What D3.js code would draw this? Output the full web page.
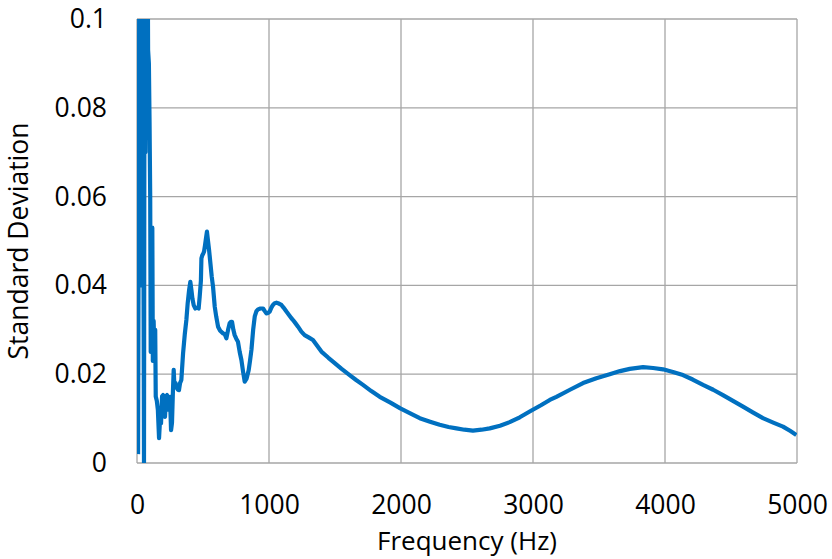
<!DOCTYPE html>
<html>
<head>
<meta charset="utf-8">
<script src="https://cdn.jsdelivr.net/npm/d3@7"></script>
<style>
  body { margin: 0; background: #fff; }
  text { font-family: "Open Sans", "Noto Sans", sans-serif; fill: #000; }
</style>
</head>
<body>
<div id="chart"></div>
<script>
// frequency (Hz) and standard deviation
var freqs = [8,18,24,30,36,42,48,53,58,64,70,76,80,84,90,95,100,104,110,116,120,126,132,138,142,
  150,158,167,175,182,190,198,205,212,220,228,236,243,250,258,265,272,278,284,292,
  300,310,318,326,336,349,362,374,384,395,404,412,420,430,442,455,467,475,484,488,
  495,502,508,515,522,530,538,546,556,566,576,589,600,614,630,652,665,677,690,702,
  712,720,730,740,752,765,778,791,804,816,830,846,856,867,880,892,905,917,935,955,
  968,980,993,1005,1018,1030,1043,1056,1075,1094,1110,1132,1150,1170,1182,1200,1220,1245,1270,1300,
  1333,1365,1397,1450,1498,1550,1611,1660,1712,1775,1839,1920,1995,2070,2142,2220,2293,2360,2420,2480,
  2545,2610,2672,2750,2823,2900,2975,3060,3127,3177,3280,3379,3480,3581,3660,3733,3834,3910,3985,4060,
  4136,4210,4288,4365,4439,4515,4591,4665,4742,4820,4894,4950,4995];

var stdDev = [0.002,0.12,0.04,0.13,0.05,0.13,0.06,0.0,0.13,0.07,0.13,0.08,0.12,0.093,0.09,0.077,0.06,0.025,0.03,0.053,0.023,0.032,0.025,0.03,0.015,
  0.014,0.012,0.0056,0.01,0.0089,0.015,0.0153,0.012,0.0104,0.015,0.0153,0.012,0.013,0.0149,0.0074,0.009,0.016,0.021,0.017,0.018,
  0.017,0.0165,0.0164,0.018,0.0187,0.0247,0.029,0.0322,0.036,0.039,0.0408,0.039,0.037,0.0355,0.0348,0.035,0.0348,0.0375,0.041,0.0461,
  0.0468,0.0472,0.0476,0.049,0.0505,0.0521,0.05,0.048,0.045,0.042,0.0397,0.0352,0.033,0.0307,0.0298,0.0292,0.029,0.0281,0.03,0.0315,
  0.0318,0.0318,0.03,0.0288,0.028,0.0273,0.025,0.0232,0.0205,0.0183,0.019,0.0209,0.023,0.0255,0.03,0.033,0.0342,0.0346,0.0348,0.0348,
  0.0342,0.0337,0.0338,0.0341,0.035,0.0356,0.036,0.0361,0.0359,0.0356,0.035,0.0341,0.0334,0.0326,0.0322,0.0315,0.0307,0.0296,0.0288,0.0283,
  0.0277,0.0264,0.0251,0.0237,0.0225,0.0212,0.0198,0.0187,0.0176,0.0162,0.0149,0.0136,0.0123,0.0112,0.0101,0.0093,0.0086,0.0081,0.0078,0.0075,
  0.0073,0.0075,0.0078,0.0084,0.0092,0.0103,0.0116,0.013,0.0142,0.0149,0.0165,0.018,0.0191,0.02,0.0207,0.0212,0.0216,0.0214,0.0211,0.0205,
  0.0198,0.0188,0.0176,0.0165,0.0153,0.014,0.0127,0.0114,0.0101,0.0091,0.0082,0.0072,0.0063];

var xTicks = [0, 1000, 2000, 3000, 4000, 5000];
var yTicks = [0, 0.02, 0.04, 0.06, 0.08, 0.1];

var margin = {top: 19, right: 35, bottom: 96, left: 137},
    width = 832 - margin.left - margin.right,
    height = 559 - margin.top - margin.bottom;

var svg = d3.select("#chart").append("svg")
    .attr("width", 832)
    .attr("height", 559)
    .append("g")
    .attr("transform", "translate(" + margin.left + "," + margin.top + ")");

var x = d3.scaleLinear().domain([0, 5000]).range([0, width]);
var y = d3.scaleLinear().domain([0, 0.1]).range([height, 0]);

// gridlines (they also draw the plot frame)
svg.append("g")
    .selectAll("line.hgrid")
    .data(yTicks)
    .enter().append("line")
    .attr("class", "hgrid")
    .attr("x1", 0).attr("x2", width)
    .attr("y1", d => y(d)).attr("y2", d => y(d))
    .attr("stroke", "#a6a6a6").attr("stroke-width", 1.3);

svg.append("g")
    .selectAll("line.vgrid")
    .data(xTicks)
    .enter().append("line")
    .attr("class", "vgrid")
    .attr("x1", d => x(d)).attr("x2", d => x(d))
    .attr("y1", 0).attr("y2", height)
    .attr("stroke", "#a6a6a6").attr("stroke-width", 1.3);

// axes: labels only
var xAxis = d3.axisBottom(x).tickValues(xTicks).tickSize(0).tickPadding(32).tickFormat(d3.format("d"));
var yAxis = d3.axisLeft(y).tickValues(yTicks).tickSize(0).tickPadding(30).tickFormat(d => d === 0 ? "0" : String(+d.toFixed(2)));

svg.append("g")
    .attr("class", "x axis")
    .attr("transform", "translate(0," + height + ")")
    .call(xAxis);

svg.append("g")
    .attr("class", "y axis")
    .call(yAxis);

svg.selectAll(".axis path").remove();
svg.selectAll(".axis text").style("font-size", "26.5px").attr("fill", "#000");

// clip the line at the plot edges like the original
svg.append("clipPath")
    .attr("id", "plot-clip")
    .append("rect")
    .attr("x", 0).attr("y", 0)
    .attr("width", width).attr("height", height);

var line = d3.line()
    .x((d, i) => x(freqs[i]))
    .y(d => y(d));

svg.append("path")
    .datum(stdDev)
    .attr("clip-path", "url(#plot-clip)")
    .attr("d", line)
    .attr("fill", "none")
    .attr("stroke", "#0070c0")
    .attr("stroke-width", 4.2)
    .attr("stroke-linejoin", "round");

// axis titles
svg.append("text")
    .attr("x", width / 2)
    .attr("y", height + 87)
    .attr("text-anchor", "middle")
    .style("font-size", "26px")
    .text("Frequency (Hz)");

svg.append("text")
    .attr("transform", "translate(" + (-109) + "," + (height / 2) + ") rotate(-90)")
    .attr("text-anchor", "middle")
    .style("font-size", "26.5px")
    .text("Standard Deviation");
</script>
</body>
</html>
